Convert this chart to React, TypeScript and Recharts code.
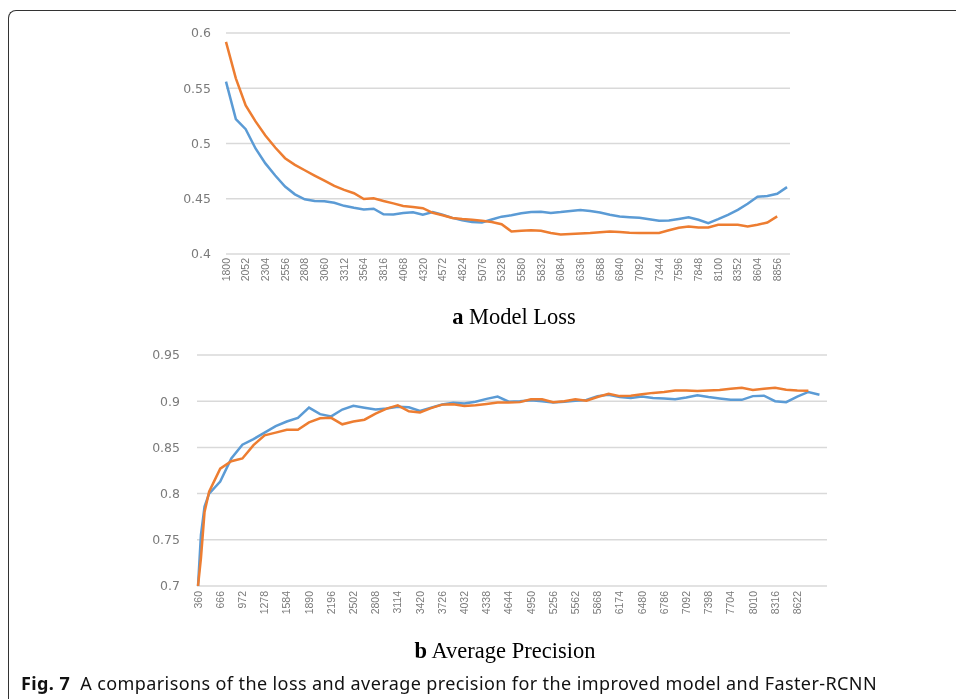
import { LineChart, Line, XAxis, YAxis, CartesianGrid } from 'recharts'

const lossTicks = [1800, 2052, 2304, 2556, 2808, 3060, 3312, 3564, 3816, 4068, 4320, 4572, 4824, 5076, 5328, 5580, 5832, 6084, 6336, 6588, 6840, 7092, 7344, 7596, 7848, 8100, 8352, 8604, 8856]
const precTicks = [360, 666, 972, 1278, 1584, 1890, 2196, 2502, 2808, 3114, 3420, 3726, 4032, 4338, 4644, 4950, 5256, 5562, 5868, 6174, 6480, 6786, 7092, 7398, 7704, 8010, 8316, 8622]

// improved model (blue) vs Faster-RCNN (orange), every 126 steps from 1800
const lossBlue = [
  0.556, 0.522, 0.513, 0.4955, 0.482, 0.471, 0.461, 0.454, 0.4495, 0.448,
  0.4477, 0.4463, 0.4436, 0.4418, 0.4403, 0.441, 0.436, 0.4358, 0.437, 0.4378,
  0.4355, 0.438, 0.4355, 0.4327, 0.4305, 0.429, 0.4285, 0.4312, 0.4338, 0.435,
  0.4368, 0.438, 0.4382, 0.4372, 0.438, 0.439, 0.4398, 0.439, 0.4375, 0.4355,
  0.434, 0.4333, 0.4327, 0.4315, 0.43, 0.4303, 0.4317, 0.4332, 0.431, 0.428,
  0.4315, 0.4355, 0.44, 0.4455, 0.4518, 0.4525, 0.4545, 0.4605,
]
const lossOrange = [
  0.592, 0.559, 0.5345, 0.52, 0.5073, 0.4964, 0.4867, 0.4807, 0.4758, 0.471,
  0.4664, 0.4616, 0.458, 0.455, 0.4498, 0.4505, 0.448, 0.4458, 0.4435, 0.4425,
  0.4415, 0.4373, 0.435, 0.4326, 0.4317, 0.431, 0.43, 0.429, 0.427, 0.4204,
  0.421, 0.4215, 0.421, 0.419, 0.4176, 0.418, 0.4185, 0.419, 0.4197, 0.4204,
  0.4198, 0.4193, 0.419, 0.419, 0.419, 0.4215, 0.4238, 0.4248, 0.424, 0.424,
  0.4264, 0.4264, 0.4264, 0.425, 0.4265, 0.4285, 0.434,
]

// precision: 360, 400, 450, then every 153 steps from 513
const precBlue = [
  0.7, 0.755, 0.786,
  0.8, 0.813, 0.838, 0.853, 0.859, 0.866, 0.873, 0.878, 0.882, 0.893,
  0.886, 0.8836, 0.891, 0.8951, 0.893, 0.891, 0.892, 0.894, 0.8935, 0.8895,
  0.893, 0.8965, 0.8984, 0.8975, 0.8995, 0.9025, 0.905, 0.8995, 0.9, 0.901,
  0.9, 0.8985, 0.8995, 0.9005, 0.9013, 0.9055, 0.907, 0.9045, 0.9035, 0.905,
  0.9035, 0.903, 0.902, 0.904, 0.9065, 0.9045, 0.903, 0.9015, 0.9015, 0.9055,
  0.906, 0.9, 0.899, 0.905, 0.91, 0.907,
]
const precOrange = [
  0.7, 0.73, 0.78,
  0.802, 0.827, 0.835, 0.838, 0.8525, 0.863, 0.866, 0.869, 0.869, 0.877,
  0.8815, 0.882, 0.875, 0.878, 0.88, 0.8865, 0.892, 0.8955, 0.889, 0.8878,
  0.8925, 0.8963, 0.8968, 0.8948, 0.8955, 0.897, 0.8985, 0.8985, 0.899, 0.902,
  0.902, 0.8988, 0.9, 0.902, 0.9005, 0.9045, 0.908, 0.9055, 0.906, 0.9075,
  0.909, 0.91, 0.9115, 0.9115, 0.911, 0.9115, 0.912, 0.9135, 0.9145, 0.9122,
  0.9135, 0.9145, 0.9125, 0.9115, 0.9113,
]

const lossSteps = lossBlue.map((_, i) => 1800 + 126 * i)
const precSteps = [360, 400, 450, ...precBlue.slice(3).map((_, i) => 513 + 153 * i)]

const lossData = lossSteps.map((step, i) => ({ step, blue: lossBlue[i], orange: lossOrange[i] }))
const precData = precSteps.map((step, i) => ({ step, blue: precBlue[i], orange: precOrange[i] }))

const BLUE = '#5b9bd5'
const ORANGE = '#ed7d31'
const GREY = '#7a7a7a'

const RotTick = (props: any) => {
  const { x, y, payload } = props
  return (
    <text x={x} y={y} transform={`rotate(-90 ${x} ${y})`} textAnchor="end" dy="0.35em"
      fontSize={10.5} fill={GREY} fontFamily="Liberation Sans, Arial, sans-serif">
      {payload.value}
    </text>
  )
}

const yTick = { fontSize: 12.5, fill: GREY, fontFamily: 'DejaVu Sans, sans-serif' }

const fixed = (left: number, top: number): React.CSSProperties => ({ position: 'fixed', left, top })

export default function App() {
  return (
    <div>
      <div style={{ position: 'fixed', left: 8, top: 10, right: 0, bottom: 0, borderTop: '1.5px solid #333', borderLeft: '1.5px solid #333', borderTopLeftRadius: 8 }} />

      <div style={fixed(150, 20)}>
        <LineChart width={650} height={284} data={lossData} margin={{ top: 13, right: 10, left: 0, bottom: 0 }}>
          <CartesianGrid vertical={false} stroke="#d9d9d9" strokeWidth={1.5} />
          <XAxis dataKey="step" type="number" domain={[1800, 9020]} ticks={lossTicks} interval={0}
            tick={<RotTick />} axisLine={false} tickLine={false} tickSize={2} tickMargin={2} height={50} />
          <YAxis domain={[0.4, 0.6]} ticks={[0.4, 0.45, 0.5, 0.55, 0.6]} width={76} tick={yTick}
            axisLine={false} tickLine={false} tickMargin={9} allowDataOverflow />
          <Line dataKey="blue" stroke={BLUE} strokeWidth={2.5} dot={false} isAnimationActive={false} />
          <Line dataKey="orange" stroke={ORANGE} strokeWidth={2.5} dot={false} isAnimationActive={false} />
        </LineChart>
      </div>

      <div style={{ ...fixed(0, 304), width: 1028, textAlign: 'center', fontFamily: 'Liberation Serif, Times New Roman, serif', fontSize: 22.5 }}>
        <b>a</b> Model Loss
      </div>

      <div style={fixed(110, 340)}>
        <LineChart width={727} height={291} data={precData} margin={{ top: 15, right: 10, left: 0, bottom: 0 }}>
          <CartesianGrid vertical={false} stroke="#d9d9d9" strokeWidth={1.5} />
          <XAxis dataKey="step" type="number" domain={[346, 9032]} ticks={precTicks} interval={0}
            tick={<RotTick />} axisLine={false} tickLine={false} tickSize={2} tickMargin={3} height={45} />
          <YAxis domain={[0.7, 0.95]} ticks={[0.7, 0.75, 0.8, 0.85, 0.9, 0.95]} width={87} tick={yTick}
            axisLine={false} tickLine={false} tickMargin={11} allowDataOverflow />
          <Line dataKey="blue" stroke={BLUE} strokeWidth={2.5} dot={false} isAnimationActive={false} />
          <Line dataKey="orange" stroke={ORANGE} strokeWidth={2.5} dot={false} isAnimationActive={false} />
        </LineChart>
      </div>

      <div style={{ ...fixed(0, 638), width: 1010, textAlign: 'center', fontFamily: 'Liberation Serif, Times New Roman, serif', fontSize: 22.5 }}>
        <b>b</b> Average Precision
      </div>

      <div style={{ ...fixed(21, 671), fontFamily: 'Noto Sans, sans-serif', fontSize: 18, letterSpacing: 0.4, color: '#111', whiteSpace: 'nowrap' }}>
        <b>Fig. 7</b>&nbsp;&nbsp;A comparisons of the loss and average precision for the improved model and Faster-RCNN
      </div>
    </div>
  )
}
